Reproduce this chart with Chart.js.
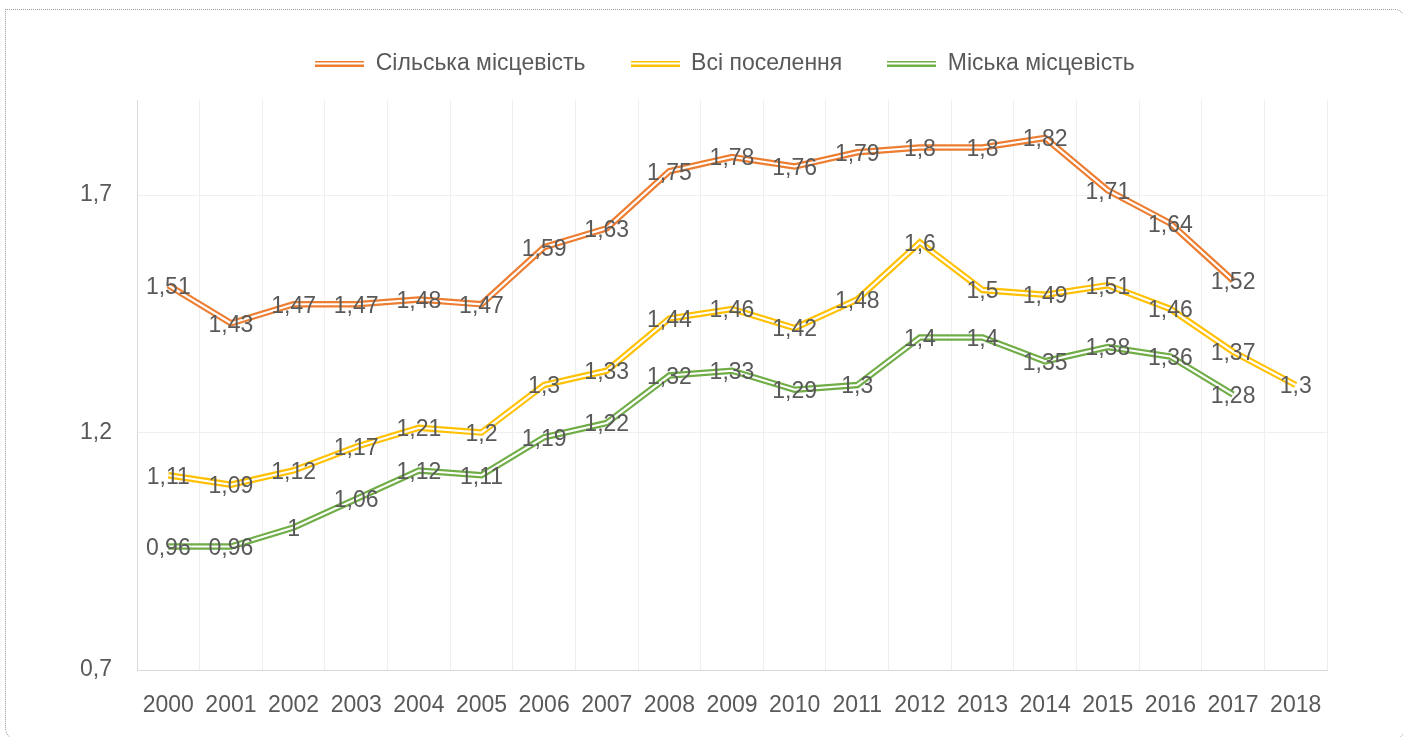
<!DOCTYPE html>
<html lang="uk">
<head>
<meta charset="utf-8">
<title>Сільська / міська місцевість</title>
<script src="https://cdn.jsdelivr.net/npm/chart.js@4"></script>
<style>
  html, body { margin: 0; padding: 0; background: #fff; }
  #wrap { position: relative; width: 1403px; height: 737px; overflow: hidden; }
  #frame {
    position: absolute; left: 5px; top: 9px; width: 1398px; height: 728px;
    border: 1px dotted #9a9a9a; border-radius: 0 10px 10px 10px; pointer-events: none;
  }
</style>
</head>
<body>
<div id="wrap">
  <canvas id="chart" width="1403" height="737"></canvas>
  <div id="frame"></div>
</div>
<script>
// ===== DATA =====
const years = ['2000', '2001', '2002', '2003', '2004', '2005', '2006', '2007', '2008', '2009',
               '2010', '2011', '2012', '2013', '2014', '2015', '2016', '2017', '2018'];

const seriesNames = ['Сільська місцевість', 'Всі поселення', 'Міська місцевість'];

const rural = [1.51, 1.43, 1.47, 1.47, 1.48, 1.47, 1.59, 1.63, 1.75, 1.78,
               1.76, 1.79, 1.8, 1.8, 1.82, 1.71, 1.64, 1.52, null];
const allSettlements = [1.11, 1.09, 1.12, 1.17, 1.21, 1.2, 1.3, 1.33, 1.44, 1.46,
                        1.42, 1.48, 1.6, 1.5, 1.49, 1.51, 1.46, 1.37, 1.3];
const urban = [0.96, 0.96, 1, 1.06, 1.12, 1.11, 1.19, 1.22, 1.32, 1.33,
               1.29, 1.3, 1.4, 1.4, 1.35, 1.38, 1.36, 1.28, null];

const yTicks = [0.7, 1.2, 1.7];

const colors = ['#ED7D31', '#FFC000', '#70AD47'];
const TEXT = '#595959';
const FONT = '"Liberation Sans", Arial, sans-serif';
const FONT_SIZE = 23;

Chart.defaults.font.family = FONT;
Chart.defaults.font.size = FONT_SIZE;
Chart.defaults.color = TEXT;

const fmt = v => String(v).replace('.', ',');

/**
 * Small canvas used as legend symbol: a double line like Excel's compound line.
 */
function doubleLineSymbol(color) {
  const c = document.createElement('canvas');
  c.width = 49;
  c.height = 6;
  const g = c.getContext('2d');
  g.fillStyle = color;
  g.fillRect(0, 0, 49, 2);
  g.fillRect(0, 4, 49, 2);
  return c;
}

// Value labels centred on each point
const pointLabels = {
  id: 'pointLabels',
  afterDatasetsDraw(chart) {
    const ctx = chart.ctx;
    ctx.save();
    ctx.font = FONT_SIZE + 'px ' + FONT;
    ctx.fillStyle = TEXT;
    ctx.textAlign = 'center';
    ctx.textBaseline = 'middle';
    chart.data.datasets.forEach((ds, i) => {
      if (!ds.showLabels) return;
      const meta = chart.getDatasetMeta(i);
      meta.data.forEach((pt, j) => {
        const v = ds.data[j];
        if (v === null || pt.skip) return;
        ctx.fillText(fmt(v), pt.x, pt.y + 2);
      });
    });
    ctx.restore();
  }
};

// Fixed legend band height and position
const legendPlace = {
  id: 'legendPlace',
  beforeLayout(chart) {
    const lg = chart.legend;
    if (lg && !lg._fixed) {
      const fit = lg.fit;
      lg.fit = function () { fit.call(this); this.height = 100; };
      lg._fixed = true;
    }
  },
  afterLayout(chart) {
    const lg = chart.legend;
    if (!lg) return;
    const dx = 725 - (lg.left + lg.right) / 2;
    lg.left += dx; lg.right += dx;
    lg.top += 7; lg.bottom += 7;
  }
};

const mainData = [rural, allSettlements, urban];

const datasets = mainData.map((d, i) => ({
  label: seriesNames[i],
  data: d,
  borderColor: colors[i],
  backgroundColor: colors[i],
  borderWidth: 6.5,
  pointRadius: 0,
  pointHoverRadius: 0,
  tension: 0,
  order: 1,
  showLabels: true,
  pointStyle: doubleLineSymbol(colors[i])
}));

// thin white centre line on top of each series
mainData.forEach((d, i) => {
  datasets.push({
    label: '_inner' + i,
    data: d,
    borderColor: '#ffffff',
    borderWidth: 2.2,
    pointRadius: 0,
    pointHoverRadius: 0,
    tension: 0,
    order: 0
  });
});

new Chart(document.getElementById('chart'), {
  type: 'line',
  data: { labels: years, datasets },
  plugins: [pointLabels, legendPlace],
  options: {
    responsive: false,
    animation: false,
    layout: { padding: { left: 0, right: 76, top: 0, bottom: 0 } },
    plugins: {
      tooltip: { enabled: false },
      legend: {
        position: 'top',
        labels: {
          filter: item => !item.text.startsWith('_inner'),
          usePointStyle: true,
          pointStyleWidth: 49,
          padding: 45,
          color: TEXT,
          font: { size: FONT_SIZE }
        }
      }
    },
    scales: {
      x: {
        offset: true,
        grid: { offset: true, color: '#efefef', lineWidth: 1, drawTicks: false },
        border: { color: '#d9d9d9' },
        ticks: { padding: 22, color: TEXT, maxRotation: 0, autoSkip: false },
        afterFit(scale) { scale.height = 67; }
      },
      y: {
        min: 0.7,
        max: 1.9,
        grid: { color: '#efefef', lineWidth: 1, drawTicks: false },
        border: { color: '#d9d9d9' },
        ticks: { padding: 25, color: TEXT, callback: v => fmt(v) },
        afterBuildTicks(scale) { scale.ticks = yTicks.map(v => ({ value: v })); },
        afterFit(scale) { scale.width = 137; }
      }
    }
  }
});
</script>
</body>
</html>
